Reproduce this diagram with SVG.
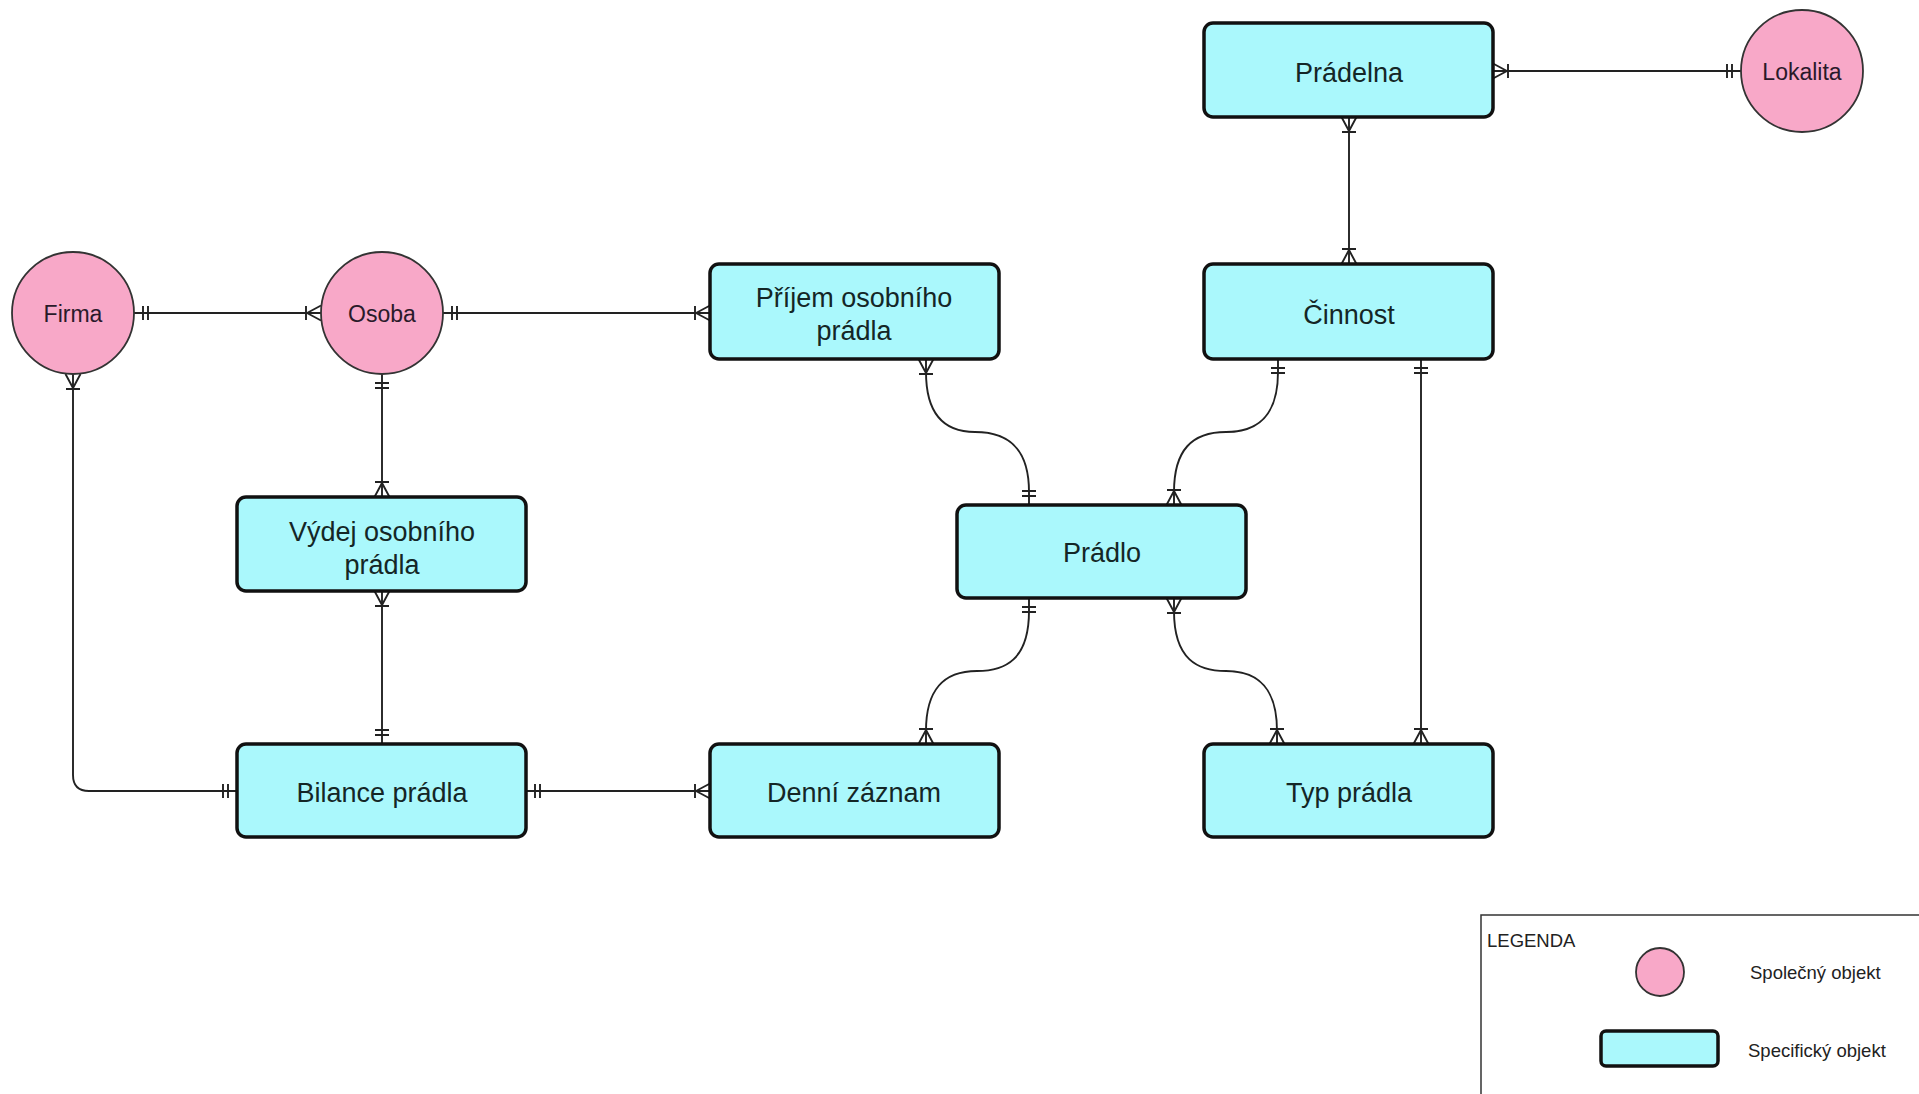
<svg xmlns="http://www.w3.org/2000/svg" width="1919" height="1094" viewBox="0 0 1919 1094">
<style>
.ent{fill:#aaf8fc;stroke:#111;stroke-width:3.5}
.obj{fill:#f8a8c8;stroke:#333;stroke-width:1.8}
.lbl{font-family:"Liberation Sans",Arial,sans-serif;font-size:27px;fill:#142626;text-anchor:middle;dominant-baseline:central}
.clbl{font-family:"Liberation Sans",Arial,sans-serif;font-size:23px;fill:#2a1a2a;text-anchor:middle;dominant-baseline:central}
.leg{font-family:"Liberation Sans",Arial,sans-serif;font-size:18.5px;fill:#222;dominant-baseline:central}
.edge{fill:none;stroke:#222;stroke-width:1.9}
</style>
<defs>
<marker id="one" viewBox="0 0 22 22" refX="22" refY="11" markerWidth="22" markerHeight="22" markerUnits="userSpaceOnUse" orient="auto-start-reverse">
<path d="M8 4V18M13 4V18" stroke="#222" stroke-width="1.9" fill="none"/>
</marker>
<marker id="many" viewBox="0 0 22 22" refX="22" refY="11" markerWidth="22" markerHeight="22" markerUnits="userSpaceOnUse" orient="auto-start-reverse">
<path d="M7 4V18M8 11L22 3.5M8 11L22 18.5" stroke="#222" stroke-width="1.9" fill="none"/>
</marker>
</defs>
<rect width="1919" height="1094" fill="#fff"/>
<g id="connectors">
<path class="edge" d="M1493,71 H1741" marker-start="url(#many)" marker-end="url(#one)"/>
<path class="edge" d="M1349,117 V264" marker-start="url(#many)" marker-end="url(#many)"/>
<path class="edge" d="M134,313 H321" marker-start="url(#one)" marker-end="url(#many)"/>
<path class="edge" d="M443,313 H710" marker-start="url(#one)" marker-end="url(#many)"/>
<path class="edge" d="M382,374 V497" marker-start="url(#one)" marker-end="url(#many)"/>
<path class="edge" d="M382,591 V744" marker-start="url(#many)" marker-end="url(#one)"/>
<path class="edge" d="M73,374 V775 Q73,791 89,791 H237" marker-start="url(#many)" marker-end="url(#one)"/>
<path class="edge" d="M526,791 H710" marker-start="url(#one)" marker-end="url(#many)"/>
<path class="edge" d="M926,359 V372 C926,420 950,432 975,432 C1010,432 1029,450 1029,492 V505" marker-start="url(#many)" marker-end="url(#one)"/>
<path class="edge" d="M1278,359 V372 C1278,420 1254,432 1226,432 C1192,432 1174,450 1174,492 V505" marker-start="url(#one)" marker-end="url(#many)"/>
<path class="edge" d="M1421,359 V744" marker-start="url(#one)" marker-end="url(#many)"/>
<path class="edge" d="M1029,598 V611 C1029,660 1005,671 977,671 C943,671 926,690 926,731 V744" marker-start="url(#one)" marker-end="url(#many)"/>
<path class="edge" d="M1174,598 V611 C1174,660 1198,671 1226,671 C1260,671 1277,690 1277,731 V744" marker-start="url(#many)" marker-end="url(#many)"/>
</g>
<g id="pradelna"><rect class="ent" x="1204" y="23" width="289" height="94" rx="9"/><text class="lbl" x="1349" y="73">Prádelna</text></g>
<g id="lokalita"><circle class="obj" cx="1802" cy="71" r="61"/><text class="clbl" x="1802" y="72">Lokalita</text></g>
<g id="cinnost"><rect class="ent" x="1204" y="264" width="289" height="95" rx="9"/><text class="lbl" x="1349" y="315">Činnost</text></g>
<g id="prijem"><rect class="ent" x="710" y="264" width="289" height="95" rx="9"/><text class="lbl" x="854" y="298">Příjem osobního</text><text class="lbl" x="854" y="331">prádla</text></g>
<g id="firma"><circle class="obj" cx="73" cy="313" r="61"/><text class="clbl" x="73" y="314">Firma</text></g>
<g id="osoba"><circle class="obj" cx="382" cy="313" r="61"/><text class="clbl" x="382" y="314">Osoba</text></g>
<g id="vydej"><rect class="ent" x="237" y="497" width="289" height="94" rx="9"/><text class="lbl" x="382" y="532">Výdej osobního</text><text class="lbl" x="382" y="565">prádla</text></g>
<g id="pradlo"><rect class="ent" x="957" y="505" width="289" height="93" rx="9"/><text class="lbl" x="1102" y="553">Prádlo</text></g>
<g id="bilance"><rect class="ent" x="237" y="744" width="289" height="93" rx="9"/><text class="lbl" x="382" y="793">Bilance prádla</text></g>
<g id="denni"><rect class="ent" x="710" y="744" width="289" height="93" rx="9"/><text class="lbl" x="854" y="793">Denní záznam</text></g>
<g id="typ"><rect class="ent" x="1204" y="744" width="289" height="93" rx="9"/><text class="lbl" x="1349" y="793">Typ prádla</text></g>
<g id="legenda">
<rect x="1481" y="915" width="450" height="200" fill="#fff" stroke="#333" stroke-width="1.5"/>
<text class="leg" x="1487" y="940">LEGENDA</text>
<circle class="obj" cx="1660" cy="972" r="24"/>
<text class="leg" x="1750" y="972">Společný objekt</text>
<rect class="ent" x="1601" y="1031" width="117" height="35" rx="5"/>
<text class="leg" x="1748" y="1050">Specifický objekt</text>
</g>
</svg>
